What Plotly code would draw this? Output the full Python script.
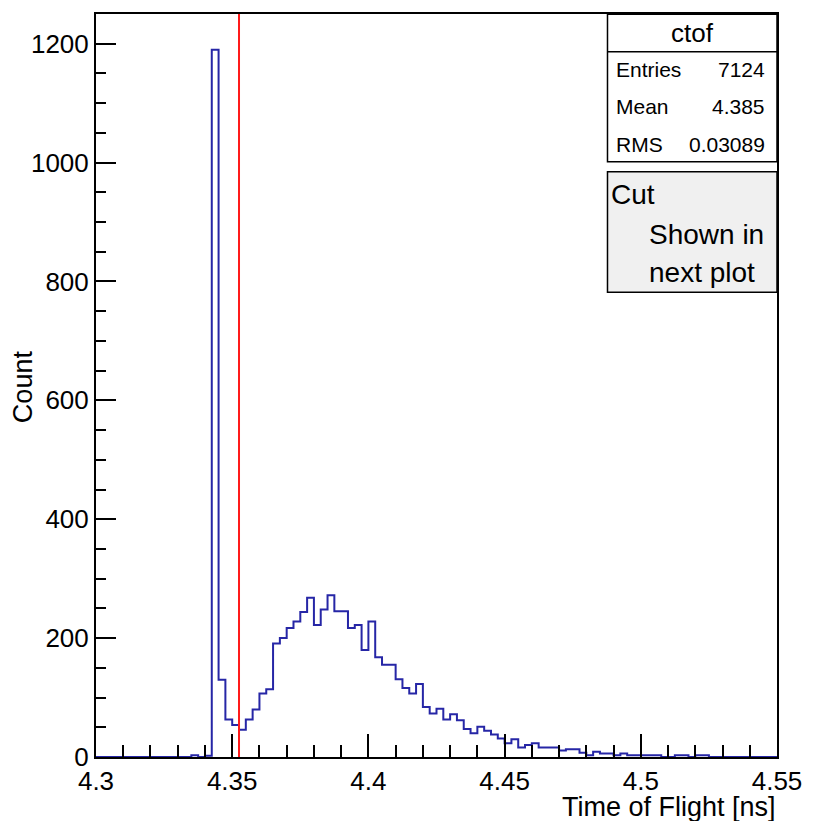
import plotly.graph_objects as go

# ---------------- data ----------------
bin_low = 4.3
bin_width = 0.0025
n_bins = 100
counts = [
    0, 0, 0, 0, 0, 0, 0, 0, 0, 0,          # 4.3000 - 4.3225
    0, 0, 0, 0, 3, 0, 2, 1190, 130, 63,    # 4.3250 - 4.3475
    54, 46, 63, 80, 107, 114, 191, 200, 217, 228,   # 4.3500 - 4.3725
    244, 268, 222, 248, 272, 245, 245, 217, 222, 180,  # 4.3750 - 4.3975
    228, 168, 155, 155, 131, 116, 107, 123, 84, 73,    # 4.4000 - 4.4225
    81, 63, 72, 62, 47, 40, 51, 44, 38, 31,            # 4.4250 - 4.4475
    23, 30, 16, 20, 23, 16, 16, 16, 11, 13,            # 4.4500 - 4.4725
    13, 7, 3, 9, 6, 6, 3, 6, 3, 3,                     # 4.4750 - 4.4975
    3, 3, 3, 0, 0, 3, 3, 0, 3, 3,                      # 4.5000 - 4.5225
    0, 0, 0, 0, 0, 0, 0, 0, 0, 0,                      # 4.5250 - 4.5475
]
cut_value = 4.3525

x_range = [4.3, 4.55]
y_range = [0, 1250]
x_tickvals = [4.3, 4.35, 4.4, 4.45, 4.5, 4.55]
x_ticktext = ["4.3", "4.35", "4.4", "4.45", "4.5", "4.55"]
y_tickvals = [0, 200, 400, 600, 800, 1000, 1200]
y_ticktext = ["0", "200", "400", "600", "800", "1000", "1200"]

stats_title = "ctof"
stats_labels = ["Entries", "Mean", "RMS"]
stats_values = ["7124", "4.385", "0.03089"]
legend_header = "Cut"
legend_lines = ["Shown in", "next plot"]

x_title = "Time of Flight [ns]"
y_title = "Count"

# ---------------- figure ----------------
W, H = 814, 821
ML, MR, MT, MB = 96, 31, 13, 64
PW = W - ML - MR
PH = H - MT - MB
FONT = "Liberation Sans, Arial, sans-serif"


def px(xp):
    return (xp - ML) / PW


def py(yp):
    return (H - MB - yp) / PH


edges = [bin_low + bin_width * i for i in range(n_bins + 1)]
xs = edges
ys = counts + [counts[-1]]

fig = go.Figure()
fig.add_trace(go.Scatter(
    x=xs, y=ys, mode="lines", line=dict(color="#2626a6", width=2, shape="hv"),
    hoverinfo="skip", showlegend=False,
))

# cut line
fig.add_shape(type="line", xref="x", yref="y", x0=cut_value, x1=cut_value,
              y0=y_range[0], y1=y_range[1], line=dict(color="#ff1a1a", width=2))

# stats box
box_l, box_r = 612, 783
fig.add_shape(type="rect", xref="paper", yref="paper",
              x0=px(box_l), x1=px(box_r), y0=py(161), y1=py(13.3),
              line=dict(color="black", width=1.5), fillcolor="white")
fig.add_shape(type="line", xref="paper", yref="paper",
              x0=px(box_l), x1=px(box_r), y0=py(50.7), y1=py(50.7),
              line=dict(color="black", width=1.5))
fig.add_annotation(xref="paper", yref="paper", x=px((box_l + box_r) / 2), y=py(32),
                   text=stats_title, showarrow=False, xanchor="center", yanchor="middle",
                   font=dict(family=FONT, size=26, color="black"))
row_y = [69, 106, 144]
for lab, val, ry in zip(stats_labels, stats_values, row_y):
    fig.add_annotation(xref="paper", yref="paper", x=px(619), y=py(ry), text=lab,
                       showarrow=False, xanchor="left", yanchor="middle",
                       font=dict(family=FONT, size=21, color="black"))
    fig.add_annotation(xref="paper", yref="paper", x=px(773), y=py(ry), text=val,
                       showarrow=False, xanchor="right", yanchor="middle",
                       font=dict(family=FONT, size=21, color="black"))

# legend box
fig.add_shape(type="rect", xref="paper", yref="paper",
              x0=px(box_l), x1=px(box_r), y0=py(291.5), y1=py(171),
              line=dict(color="black", width=1.5), fillcolor="#f0f0f0")
fig.add_annotation(xref="paper", yref="paper", x=px(614), y=py(193.5), text=legend_header,
                   showarrow=False, xanchor="left", yanchor="middle",
                   font=dict(family=FONT, size=28, color="black"))
for txt, ly in zip(legend_lines, [233.5, 271.5]):
    fig.add_annotation(xref="paper", yref="paper", x=px(652), y=py(ly), text=txt,
                       showarrow=False, xanchor="left", yanchor="middle",
                       font=dict(family=FONT, size=28, color="black"))

# axis titles
fig.add_annotation(xref="paper", yref="paper", x=px(784), y=py(807), text=x_title,
                   showarrow=False, xanchor="right", yanchor="middle",
                   font=dict(family=FONT, size=27, color="black"))
fig.add_annotation(xref="paper", yref="paper", x=px(23), y=py(386), text=y_title,
                   showarrow=False, xanchor="center", yanchor="middle", textangle=-90,
                   font=dict(family=FONT, size=27, color="black"))

fig.update_layout(
    width=W, height=H,
    margin=dict(l=ML, r=MR, t=MT, b=MB, pad=0),
    paper_bgcolor="white", plot_bgcolor="white",
    showlegend=False,
    font=dict(family=FONT, size=26, color="black"),
    xaxis=dict(
        range=x_range, tickvals=x_tickvals, ticktext=x_ticktext,
        ticks="inside", ticklen=23, tickwidth=1.5, tickcolor="black",
        minor=dict(dtick=0.01, tick0=4.3, ticks="inside", ticklen=12,
                   tickwidth=1.5, tickcolor="black", showgrid=False),
        showline=True, linecolor="black", linewidth=2, mirror=True,
        showgrid=False, zeroline=False, layer="above traces",
        tickfont=dict(family=FONT, size=26, color="black"),
    ),
    yaxis=dict(
        range=y_range, tickvals=y_tickvals, ticktext=y_ticktext,
        ticks="inside", ticklen=20, tickwidth=1.5, tickcolor="black",
        minor=dict(dtick=50, tick0=0, ticks="inside", ticklen=10,
                   tickwidth=1.5, tickcolor="black", showgrid=False),
        showline=True, linecolor="black", linewidth=2, mirror=True,
        showgrid=False, zeroline=False, layer="above traces",
        tickfont=dict(family=FONT, size=26, color="black"),
        ticklabelstandoff=0,
    ),
)

fig.write_html("out.html")
